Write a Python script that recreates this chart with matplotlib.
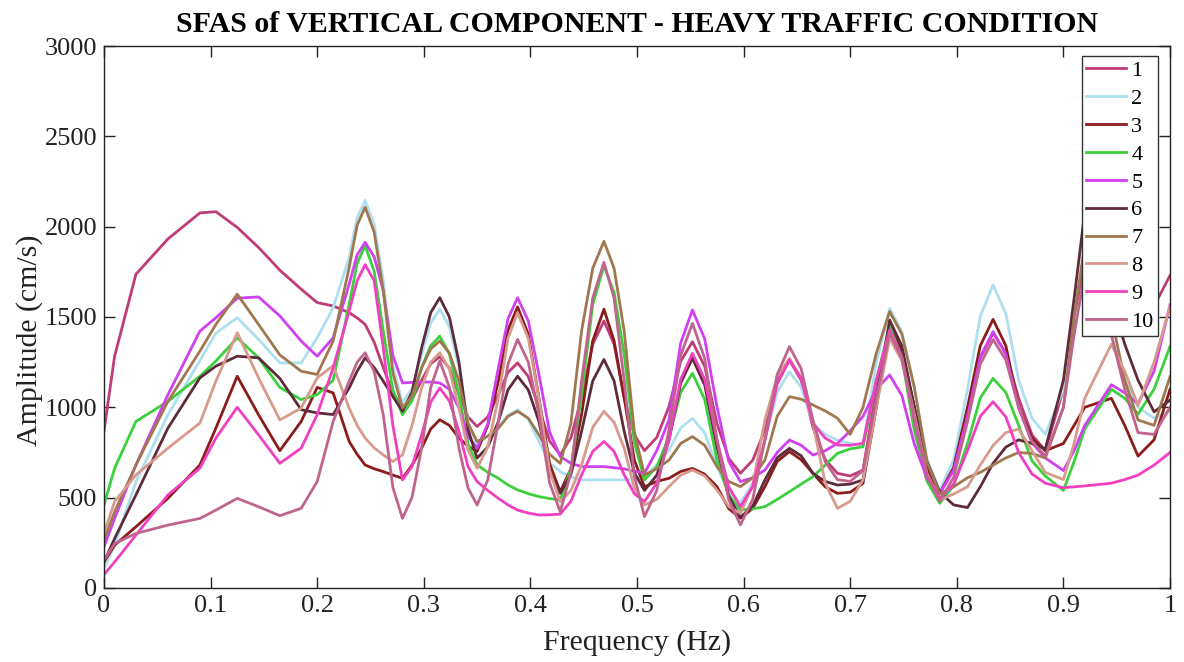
import matplotlib
matplotlib.use("Agg")
import matplotlib.pyplot as plt

plt.rcParams['font.family'] = ['Liberation Serif', 'DejaVu Serif']

freq = [0, 0.01, 0.03, 0.06, 0.09, 0.105, 0.125, 0.145, 0.165, 0.185, 0.2, 0.215, 0.23, 0.2375,
        0.245, 0.2535, 0.262, 0.271, 0.28, 0.289, 0.298, 0.3065, 0.315, 0.324, 0.333, 0.3415,
        0.35, 0.36, 0.37, 0.379, 0.388, 0.398, 0.408, 0.418, 0.428, 0.438, 0.448, 0.4585,
        0.469, 0.4785, 0.488, 0.4975, 0.507, 0.5185, 0.53, 0.541, 0.552, 0.5635, 0.575, 0.586,
        0.597, 0.6085, 0.62, 0.6315, 0.643, 0.654, 0.665, 0.6765, 0.688, 0.70, 0.712, 0.7245,
        0.737, 0.7485, 0.76, 0.772, 0.784, 0.797, 0.81, 0.822, 0.834, 0.846, 0.858, 0.8705, 0.883,
        0.9, 0.91, 0.92, 0.945, 0.9575, 0.97, 0.985, 1.0]

s1 = [867, 1283, 1737, 1932, 2076, 2083, 1996, 1885, 1759, 1654, 1580, 1561, 1524, 1495,
      1459, 1360, 1220, 1080, 1000, 1045, 1150, 1241, 1280, 1217, 1070, 947,
      894, 947, 1070, 1193, 1246, 1171, 996, 814, 737, 831, 1052, 1350,
      1478, 1350, 1052, 848, 760, 833, 1004, 1255, 1363, 1227, 911, 718,
      635, 707, 875, 1145, 1262, 1150, 890, 711, 635, 620, 653, 1100,
      1446, 1313, 1004, 668, 524, 655, 960, 1275, 1410, 1302, 1050, 847, 760,
      1100, 1500, 1800, 1650, 1550, 1470, 1560, 1730]
s2 = [107, 237, 589, 959, 1260, 1410, 1496, 1376, 1246, 1246, 1385, 1552, 1830, 2050,
      2145, 2011, 1700, 1226, 1024, 1105, 1293, 1468, 1543, 1446, 1219, 921,
      793, 840, 885, 956, 987, 934, 811, 694, 644, 615, 598, 598,
      598, 598, 598, 605, 617, 680, 764, 886, 939, 859, 672, 532,
      472, 576, 819, 1084, 1197, 1111, 911, 850, 819, 800, 791, 1250,
      1548, 1418, 1114, 714, 542, 709, 1100, 1504, 1677, 1519, 1150, 940, 850,
      1100, 1450, 1700, 1400, 1150, 1000, 940, 980]
s3 = [144, 237, 339, 496, 681, 885, 1172, 959, 760, 922, 1110, 1080, 811, 740,
      681, 660, 644, 625, 607, 680, 774, 880, 931, 900, 830, 785,
      756, 900, 1145, 1428, 1556, 1405, 1052, 688, 533, 660, 959, 1368,
      1543, 1368, 1052, 708, 560, 590, 607, 645, 662, 630, 561, 440,
      386, 440, 561, 700, 755, 710, 635, 560, 524, 530, 579, 1000,
      1446, 1313, 1004, 668, 524, 667, 1000, 1341, 1487, 1341, 1000, 830, 760,
      800, 900, 1000, 1050, 900, 730, 820, 1100]
s4 = [459, 663, 922, 1033, 1172, 1256, 1385, 1274, 1110, 1043, 1070, 1150, 1570, 1797,
      1895, 1753, 1422, 1096, 959, 1037, 1219, 1341, 1394, 1297, 1070, 798,
      682, 640, 607, 570, 543, 522, 506, 495, 487, 662, 1070, 1569,
      1783, 1636, 1293, 806, 598, 670, 838, 1083, 1188, 1044, 708, 515,
      432, 438, 450, 490, 533, 575, 616, 680, 745, 770, 782, 1150,
      1446, 1275, 875, 591, 469, 568, 800, 1052, 1160, 1082, 900, 704, 620,
      540, 700, 880, 1100, 1050, 962, 1100, 1337]
s5 = [228, 385, 681, 1070, 1422, 1496, 1604, 1611, 1506, 1367, 1283, 1385, 1682, 1844,
      1913, 1833, 1645, 1288, 1135, 1138, 1140, 1140, 1135, 1100, 996, 841,
      774, 908, 1219, 1490, 1607, 1479, 1182, 864, 728, 690, 672, 672,
      672, 666, 659, 647, 635, 760, 930, 1356, 1539, 1379, 1004, 701,
      589, 610, 653, 750, 819, 790, 736, 760, 800, 870, 950, 1100,
      1179, 1065, 800, 607, 524, 652, 950, 1278, 1419, 1293, 1000, 804, 720,
      650, 760, 900, 1125, 1080, 1019, 1200, 1567]
s6 = [144, 274, 515, 885, 1163, 1228, 1283, 1274, 1160, 987, 969, 960, 1107, 1200,
      1274, 1220, 1145, 1060, 978, 1084, 1330, 1524, 1607, 1500, 1250, 878,
      719, 780, 922, 1097, 1172, 1097, 922, 643, 524, 627, 867, 1146,
      1265, 1146, 867, 638, 540, 624, 819, 1135, 1271, 1124, 782, 508,
      391, 453, 598, 721, 773, 732, 635, 590, 570, 575, 598, 1050,
      1483, 1339, 1004, 700, 530, 460, 445, 560, 690, 780, 820, 800, 770,
      1150, 1600, 2080, 1600, 1350, 1150, 975, 1040]
s7 = [265, 422, 681, 1033, 1311, 1459, 1626, 1459, 1290, 1200, 1182, 1367, 1774, 2008,
      2108, 1969, 1645, 1191, 996, 1063, 1219, 1323, 1367, 1300, 1145, 911,
      811, 840, 885, 950, 978, 940, 848, 740, 690, 910, 1422, 1770,
      1919, 1770, 1422, 864, 625, 660, 708, 800, 838, 790, 672, 590,
      561, 610, 708, 950, 1059, 1045, 1013, 980, 940, 850, 1000, 1300,
      1530, 1405, 1114, 700, 520, 560, 610, 640, 680, 720, 750, 745, 720,
      1000, 1500, 1900, 1500, 1150, 930, 900, 1170]
s8 = [302, 478, 626, 774, 913, 1145, 1413, 1163, 930, 996, 1163, 1230, 996, 900,
      830, 775, 737, 700, 737, 900, 1107, 1250, 1302, 1210, 996, 763,
      663, 780, 1052, 1382, 1524, 1382, 1052, 650, 478, 539, 681, 889,
      978, 917, 774, 554, 460, 490, 561, 625, 653, 620, 542, 452,
      413, 568, 930, 1169, 1271, 1163, 911, 582, 441, 480, 598, 1000,
      1382, 1257, 967, 631, 487, 520, 560, 680, 789, 860, 880, 760, 640,
      600, 800, 1050, 1350, 1200, 1010, 1250, 1558]
s9 = [74, 144, 293, 515, 663, 830, 1000, 848, 690, 774, 959, 1219, 1533, 1700,
      1790, 1700, 1330, 900, 598, 673, 848, 1029, 1107, 1035, 867, 672,
      589, 540, 496, 460, 431, 415, 404, 405, 409, 480, 626, 756,
      811, 756, 626, 522, 478, 580, 819, 1155, 1299, 1155, 819, 561,
      450, 561, 819, 1129, 1262, 1157, 911, 830, 791, 790, 801, 1150,
      1428, 1279, 930, 626, 496, 575, 760, 950, 1031, 947, 750, 631, 580,
      555, 560, 565, 580, 600, 625, 680, 750]
s10 = [154, 246, 302, 348, 385, 431, 496, 450, 400, 441, 589, 922, 1145, 1250,
       1302, 1199, 959, 557, 385, 502, 774, 1111, 1256, 1111, 774, 554,
       459, 598, 922, 1240, 1376, 1251, 959, 583, 422, 639, 1145, 1605,
       1802, 1605, 1145, 620, 395, 539, 875, 1288, 1465, 1271, 819, 490,
       349, 490, 819, 1181, 1336, 1214, 930, 699, 600, 590, 650, 1050,
       1410, 1272, 950, 621, 480, 612, 920, 1239, 1375, 1262, 1000, 811, 730,
       1000, 1400, 1750, 1400, 1100, 860, 850, 1000]

series = [s1, s2, s3, s4, s5, s6, s7, s8, s9, s10]
labels = ['1', '2', '3', '4', '5', '6', '7', '8', '9', '10']
colors = ['#C03C78', '#ADDFF0', '#8B1C1C', '#3CD03C', '#D040F0',
          '#5E2B3B', '#A07850', '#D89A8C', '#F040C0', '#C0648E']

fig = plt.figure(figsize=(11.84, 6.62), dpi=100)
ax = fig.add_axes([0.0878, 0.1118, 0.9004, 0.8187])

for y, lab, c in zip(series, labels, colors):
    ax.plot(freq, y, color=c, lw=2.0, label=lab, solid_joinstyle='round')

ax.set_xlim(0, 1)
ax.set_ylim(0, 3000)
ax.set_xticks([0, 0.1, 0.2, 0.3, 0.4, 0.5, 0.6, 0.7, 0.8, 0.9, 1])
ax.set_xticklabels(['0', '0.1', '0.2', '0.3', '0.4', '0.5', '0.6', '0.7', '0.8', '0.9', '1'])
ax.set_yticks([0, 500, 1000, 1500, 2000, 2500, 3000])
ax.tick_params(direction='in', length=8, width=1, top=True, right=True,
               labelsize=19, colors='#222222', labelcolor='#222222', pad=5)
for sp in ax.spines.values():
    sp.set_color('#222222')
    sp.set_linewidth(1.0)

ax.set_xlabel('Frequency (Hz)', fontsize=21.5, color='#222222', labelpad=9)
ax.set_ylabel('Amplitude (cm/s)', fontsize=21.5, color='#222222')
ax.yaxis.set_label_coords(-0.057, 0.458)
ax.set_title('SFAS of VERTICAL COMPONENT - HEAVY TRAFFIC CONDITION',
             fontsize=21.5, fontweight='bold', pad=10)

leg = ax.legend(loc='upper right', bbox_to_anchor=(0.9887, 0.9815),
                fontsize=16, frameon=True, fancybox=False,
                framealpha=1, edgecolor='#333333', handlelength=1.8,
                handletextpad=0.22, labelspacing=0.33, borderpad=0.2,
                borderaxespad=0)
leg.get_frame().set_linewidth(1.0)

fig.savefig('out.png', dpi=100)
